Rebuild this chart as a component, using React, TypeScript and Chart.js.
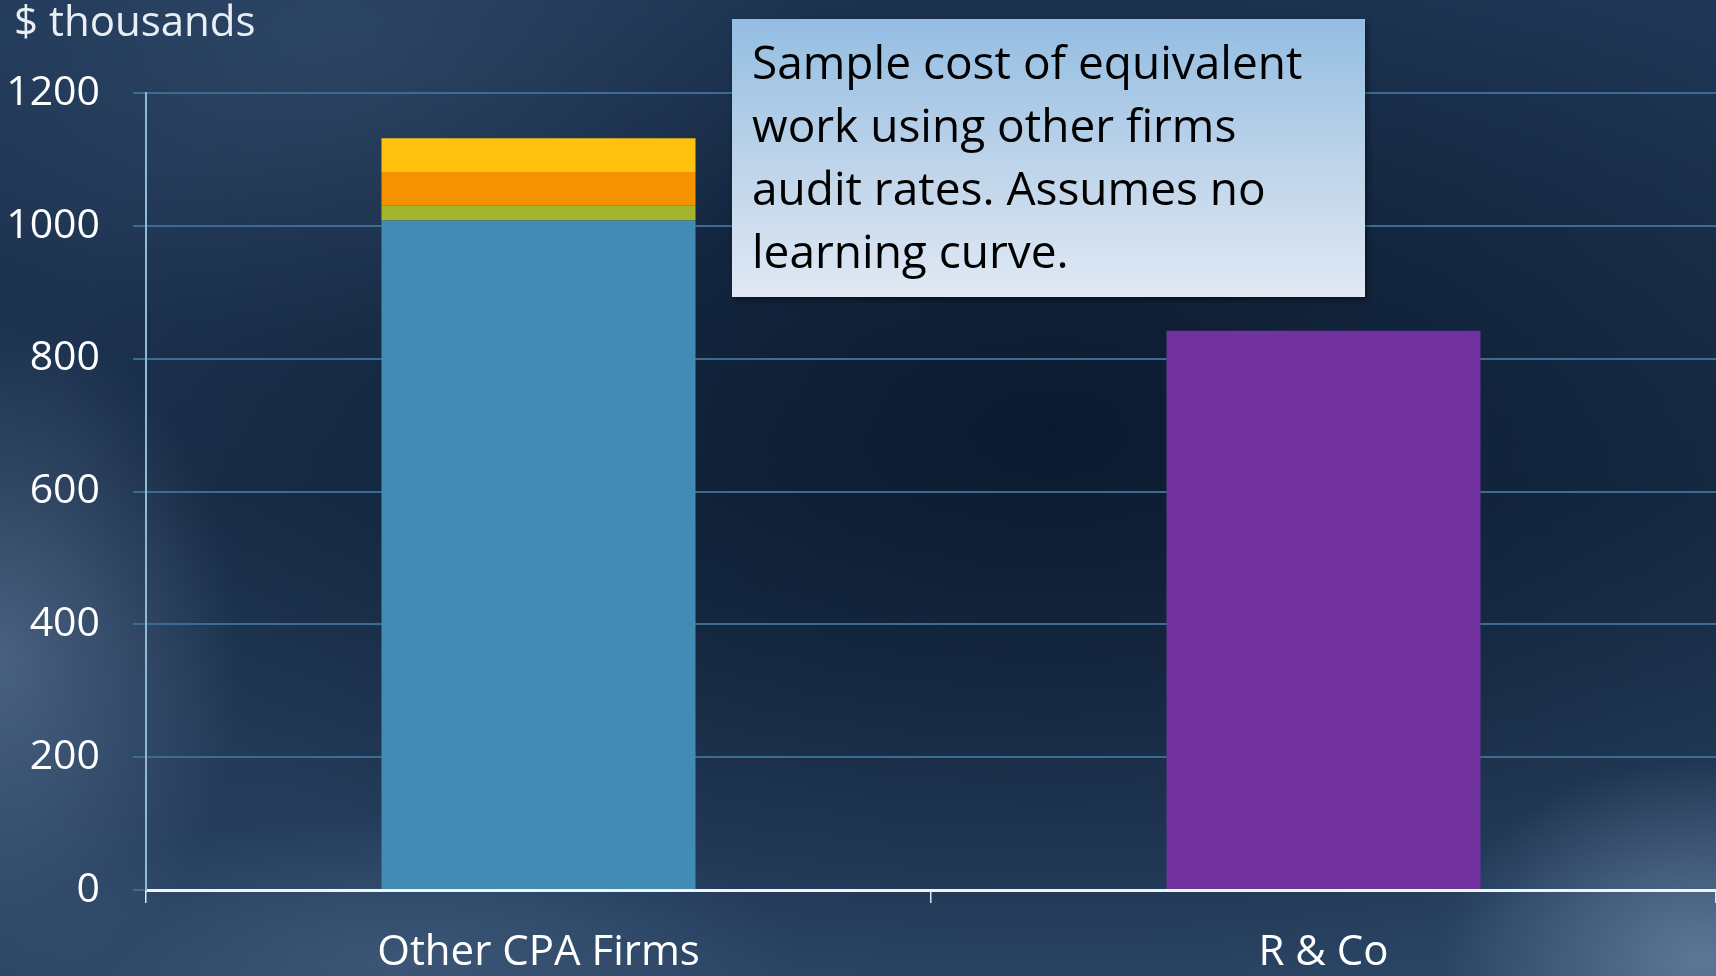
import React, { useEffect, useRef } from 'react';
import { Chart, registerables } from 'chart.js';

Chart.register(...registerables);

const categories = ['Other CPA Firms', 'R & Co'];
const baseAudit = [1008, null];
const segmentGreen = [23, null];
const segmentOrange = [50, null];
const segmentYellow = [51, null];
const rAndCo = [null, 842];
const yMin = 0;
const yMax = 1200;
const yStep = 200;
const unitLabel = '$ thousands';
const noteLines = [
  'Sample cost of equivalent',
  'work using other firms',
  'audit rates. Assumes no',
  'learning curve.',
];

export default function App() {
  const ref = useRef<HTMLCanvasElement>(null);

  useEffect(() => {
    const chart = new Chart(ref.current!, {
      type: 'bar',
      data: {
        labels: categories,
        datasets: [
          { label: 'Base', data: baseAudit, backgroundColor: '#428bb5' },
          { label: 'Green', data: segmentGreen, backgroundColor: '#a4b52d' },
          { label: 'Orange', data: segmentOrange, backgroundColor: '#f59200' },
          { label: 'Yellow', data: segmentYellow, backgroundColor: '#ffc20e' },
          { label: 'R & Co', data: rAndCo, backgroundColor: '#71329f' },
        ],
      },
      options: {
        responsive: false,
        animation: false,
        layout: { padding: { top: 93, left: 0, right: 0, bottom: 0 } },
        datasets: { bar: { barPercentage: 0.4, categoryPercentage: 1.0 } },
        plugins: { legend: { display: false }, tooltip: { enabled: false } },
        scales: {
          x: {
            stacked: true,
            offset: true,
            grid: {
              offset: true,
              drawOnChartArea: false,
              drawTicks: true,
              tickLength: 13,
              color: '#dfe8f0',
              lineWidth: 1.5,
            },
            border: { color: '#eef3f8', width: 3 },
            ticks: {
              color: '#ffffff',
              font: { family: 'Open Sans', size: 42 },
              padding: 25,
            },
            afterFit: (s: any) => {
              s.height = 86;
            },
          },
          y: {
            stacked: true,
            min: yMin,
            max: yMax,
            ticks: {
              stepSize: yStep,
              padding: 33,
              color: '#ffffff',
              font: { family: 'Open Sans', size: 41 },
              callback: (v: any) => String(v),
            },
            grid: { color: '#3a6d91', lineWidth: 2, tickLength: 13 },
            border: { color: '#8fb9d6', width: 2 },
            afterFit: (s: any) => {
              s.width = 146;
            },
          },
        },
      },
    });
    return () => chart.destroy();
  }, []);

  return (
    <div
      style={{
        position: 'absolute',
        left: 0,
        top: 0,
        width: 1716,
        height: 976,
        overflow: 'hidden',
        fontFamily: 'Open Sans',
        background: [
          'radial-gradient(ellipse 260px 200px at 1700px 960px, rgba(110,136,166,0.75), rgba(110,136,166,0) 100%)',
          'radial-gradient(ellipse 240px 340px at 0px 660px, rgba(95,120,152,0.65), rgba(95,120,152,0) 100%)',
          'radial-gradient(ellipse 400px 140px at 400px 960px, rgba(70,98,130,0.6), rgba(70,98,130,0) 100%)',
          'radial-gradient(ellipse 500px 300px at 330px 40px, rgba(55,80,110,0.55), rgba(55,80,110,0) 100%)',
          'radial-gradient(ellipse 1000px 560px at 1050px 430px, rgba(10,25,45,0.95), rgba(10,25,45,0) 100%)',
          'linear-gradient(180deg, #203858 0%, #1a2f4a 50%, #2a4464 100%)',
        ].join(', '),
      }}
    >
      <canvas
        ref={ref}
        width={1716}
        height={976}
        style={{ position: 'absolute', left: 0, top: 0, display: 'block' }}
      />
      <div
        style={{
          position: 'absolute',
          left: 14,
          top: -1,
          fontSize: 42,
          lineHeight: '42px',
          color: '#e8eef4',
          whiteSpace: 'nowrap',
        }}
      >
        {unitLabel}
      </div>
      <div
        style={{
          position: 'absolute',
          left: 732,
          top: 19,
          width: 633,
          height: 278,
          boxSizing: 'border-box',
          padding: '11px 0 0 20px',
          background: 'linear-gradient(180deg, #93bde2 0%, #c0d5ea 55%, #e0e9f4 100%)',
          boxShadow: '2px 3px 6px rgba(0,0,0,0.45)',
          color: '#000000',
          fontSize: 46,
          lineHeight: '63px',
          whiteSpace: 'nowrap',
        }}
      >
        {noteLines.map((l, i) => (
          <div key={i}>{l}</div>
        ))}
      </div>
    </div>
  );
}
